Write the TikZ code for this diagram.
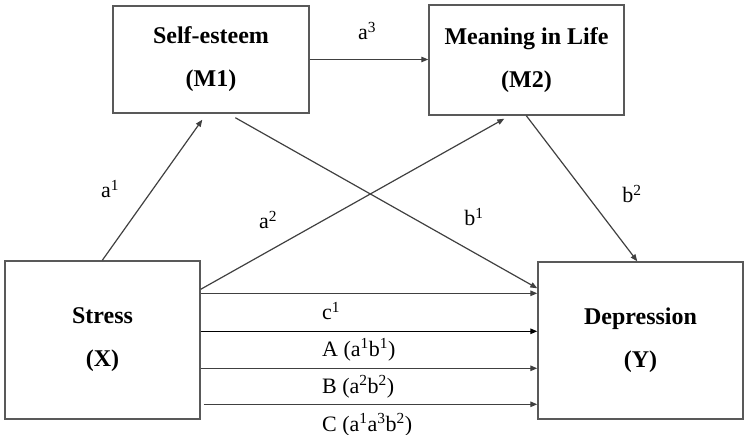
\documentclass[tikz,border=0pt]{standalone}
\usepackage{fontspec}
\setmainfont{Liberation Serif}
\usetikzlibrary{arrows.meta}
\begin{document}
\begin{tikzpicture}[x=1pt,y=-1pt,
  box/.style={draw=black!65,line width=1.4pt,rectangle,align=center,inner sep=0pt,
    font=\fontsize{24}{28}\selectfont\bfseries},
  conn/.style={draw=black!75,line width=1.2pt,-{Triangle[length=7pt,width=5.5pt]}},
  lab/.style={font=\fontsize{22}{26}\selectfont,inner sep=0pt}]
\useasboundingbox (0,0) rectangle (752,435);
\node[box,minimum width=196pt,minimum height=107pt] (se) at (211,59.5) {Self-esteem\\[15pt](M1)};
\node[box,minimum width=195pt,minimum height=110pt] (mil) at (526.5,60) {Meaning in Life\\[15pt](M2)};
\node[box,minimum width=195pt,minimum height=158pt] (x) at (102.5,340) {Stress\\[15pt](X)};
\node[box,minimum width=205pt,minimum height=157pt] (y) at (640.5,340.5) {Depression\\[15pt](Y)};
% paths
\draw[conn] (se.east) -- (se.east -| mil.west);
\draw[conn] ([xshift=98pt]x.north west) -- ([xshift=90pt,yshift=-6pt]se.south west);
\draw[conn] ([xshift=123pt,yshift=-4pt]se.south west) -- ([yshift=-27pt]y.north west);
\draw[conn] ([yshift=-29pt]x.north east) -- ([xshift=76pt,yshift=-3pt]mil.south west);
\draw[conn] ([xshift=98pt]mil.south west) -- ([xshift=100pt]y.north west);
\coordinate (h1) at ([yshift=-33pt]x.north east);
\coordinate (h2) at ([yshift=-71pt]x.north east);
\coordinate (h3) at ([yshift=-108pt]x.north east);
\coordinate (h4) at ([xshift=3pt,yshift=-144pt]x.north east);
\draw[conn] (h1) -- (h1 -| y.west);
\draw[conn,draw=black] (h2) -- (h2 -| y.west);
\draw[conn] (h3) -- (h3 -| y.west);
\draw[conn] (h4) -- (h4 -| y.west);
% labels
\node[lab] (la3) at (367,31) {a\textsuperscript{3}};
\node[lab] (la1) at (110,189) {a\textsuperscript{1}};
\node[lab] (la2) at (268,220) {a\textsuperscript{2}};
\node[lab] (lb1) at (474,217) {b\textsuperscript{1}};
\node[lab] (lb2) at (632,194) {b\textsuperscript{2}};
\node[lab,anchor=west] (lc1) at (322,311) {c\textsuperscript{1}};
\node[lab,anchor=west] (lA) at (322,350) {A (a\textsuperscript{1}b\textsuperscript{1})};
\node[lab,anchor=west] (lB) at (322,387) {B (a\textsuperscript{2}b\textsuperscript{2})};
\node[lab,anchor=west] (lC) at (322,425) {C (a\textsuperscript{1}a\textsuperscript{3}b\textsuperscript{2})};
\end{tikzpicture}
\end{document}
